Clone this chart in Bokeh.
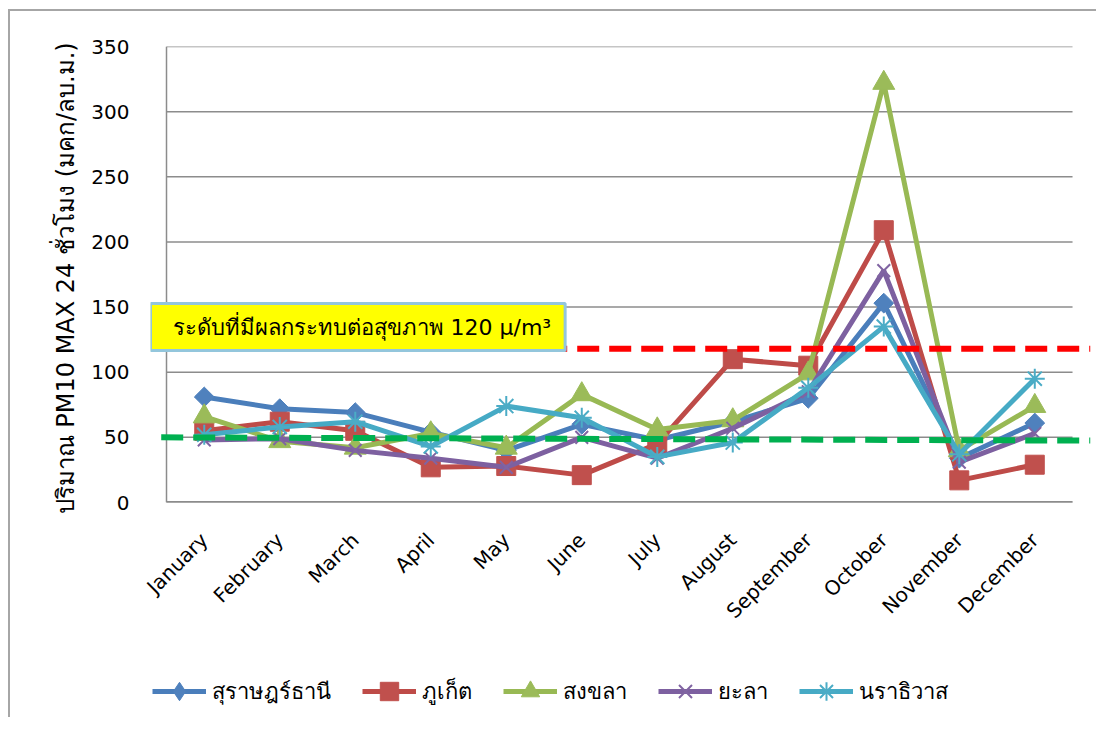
import math
from bokeh.plotting import figure
from bokeh.layouts import column
from bokeh.models import Range1d, FixedTicker, Label, Legend, LegendItem
from bokeh.embed import file_html
from bokeh.resources import INLINE

months = ["January", "February", "March", "April", "May", "June", "July",
          "August", "September", "October", "November", "December"]
series_names = ["สุราษฎร์ธานี", "ภูเก็ต", "สงขลา", "ยะลา", "นราธิวาส"]
surat = [81, 72, 69, 54, 40, 60, 48, 62, 80, 153, 34, 61]
phuket = [55, 62, 55, 27, 28, 21, 45, 110, 105, 209, 17, 29]
songkhla = [66, 47, 42, 53, 42, 83, 56, 63, 99, 322, 40, 74]
yala = [48, 49, 40, 34, 27, 50, 34, 57, 85, 178, 31, 53]
narathiwat = [52, 58, 62, 43, 74, 65, 35, 46, 88, 135, 37, 95]
y_ticks = [0, 50, 100, 150, 200, 250, 300, 350]
health_limit = 118          # red dashed reference line
green_ref = [50, 47.5]      # green dashed reference line (start, end)
box_text = "ระดับที่มีผลกระทบต่อสุขภาพ 120 μ/m³"
y_title = "ปริมาณ PM10  MAX 24 ชั่วโมง (มคก/ลบ.ม.)"

FONT = "DejaVu Sans"
x = [i + 0.5 for i in range(len(months))]
X0, X1 = -0.212, 12.238

p = figure(width=1086, height=646, output_backend="svg", toolbar_location=None,
           x_range=Range1d(X0, X1), y_range=Range1d(0, 350),
           min_border_left=140, min_border_right=6, min_border_top=35,
           min_border_bottom=155)
p.xgrid.visible = False
p.ygrid.visible = False
p.outline_line_color = None

# gridlines and axis lines (plot area spans categories 0..12)
p.segment(x0=[0] * len(y_ticks), x1=[12] * len(y_ticks), y0=y_ticks, y1=y_ticks,
          line_color="#8c8c8c", line_width=1.5)
p.segment(x0=[0], x1=[12], y0=[0], y1=[0], line_color="#8c8c8c", line_width=3)
p.segment(x0=[0], x1=[0], y0=[0], y1=[350], line_color="#8c8c8c", line_width=1.5)

# y axis
p.yaxis.ticker = FixedTicker(ticks=y_ticks)
p.yaxis.axis_line_color = None
p.yaxis.major_tick_line_color = None
p.yaxis.minor_tick_line_color = None
p.yaxis.major_label_standoff = 15
p.yaxis.major_label_text_font = FONT
p.yaxis.major_label_text_font_size = "20px"
p.yaxis.major_label_text_color = "#000000"
p.yaxis.axis_label = y_title
p.yaxis.axis_label_text_font = FONT
p.yaxis.axis_label_text_font_size = "24px"
p.yaxis.axis_label_text_font_style = "normal"
p.yaxis.axis_label_text_color = "#000000"
p.yaxis.axis_label_standoff = 8

# x axis
p.xaxis.ticker = FixedTicker(ticks=x)
p.xaxis.major_label_overrides = {xi: m for xi, m in zip(x, months)}
p.xaxis.major_label_orientation = math.pi / 4
p.xaxis.axis_line_color = None
p.xaxis.major_tick_line_color = None
p.xaxis.minor_tick_line_color = None
p.xaxis.major_label_standoff = 28
p.xaxis.major_label_text_font = FONT
p.xaxis.major_label_text_font_size = "20px"
p.xaxis.major_label_text_color = "#000000"

styles = [
    (surat, "#4a7ebb", "#4f81bd", dict(marker="square", size=14, angle=math.pi / 4)),
    (phuket, "#be4b48", "#c0504d", dict(marker="square", size=19)),
    (songkhla, "#98b954", "#9bbb59", dict(marker="triangle", size=22)),
    (yala, "#7d60a0", "#8064a2", dict(marker="x", size=18, line_width=2)),
    (narathiwat, "#46aac5", "#4bacc6", dict(marker="asterisk", size=20, line_width=2)),
]
for name, (vals, lc, mc, mk) in zip(series_names, styles):
    p.line(x, vals, line_color=lc, line_width=5)
    p.scatter(x, vals, fill_color=mc, line_color=mc, **mk)

# reference lines
p.line([-0.07, X1], [health_limit, health_limit], line_color="#ff0000", line_width=6,
       line_dash="22 10")
p.line([-0.07, X1], green_ref, line_color="#00b050", line_width=6, line_dash="22 10")

# annotation box (shadow + box)
by = (502 - 350) / (456 / 350)
pad = dict(left=22, right=14, top=11, bottom=11)
shadow = Label(x=X0, y=by, x_offset=4, y_offset=-4, text=box_text, anchor="bottom_left",
               text_font=FONT, text_font_size="22px", text_alpha=0.0,
               background_fill_color="#7f9fb0", background_fill_alpha=0.75,
               padding=pad)
box = Label(x=X0, y=by, text=box_text, anchor="bottom_left",
            text_font=FONT, text_font_size="22px", text_color="#000000",
            background_fill_color="#ffff00", border_line_color="#93c6dc",
            border_line_width=3, padding=pad)
p.add_layout(shadow)
p.add_layout(box)

# legend strip below the chart (same series, drawn off-range so only the key shows)
lg = figure(width=1086, height=60, output_backend="svg", toolbar_location=None,
            x_range=Range1d(-10, -9), y_range=Range1d(0, 1),
            x_axis_type=None, y_axis_type=None,
            min_border_left=0, min_border_right=0, min_border_top=0, min_border_bottom=0)
lg.xgrid.visible = False
lg.ygrid.visible = False
lg.outline_line_color = None
legend_markers = ["diamond", "square", "triangle", "x", "asterisk"]
items = []
for name, (vals, lc, mc, mk), lm in zip(series_names, styles, legend_markers):
    lr = lg.line(x, vals, line_color=lc, line_width=5)
    sr = lg.scatter(x, vals, marker=lm, fill_color=mc, line_color=mc,
                    line_width=mk.get("line_width", 1))
    items.append(LegendItem(label=name, renderers=[lr, sr]))
legend = Legend(items=items, orientation="horizontal", location=(2, 3),
                glyph_width=54, glyph_height=46, label_standoff=6, spacing=31,
                padding=0, margin=0, border_line_color=None,
                background_fill_alpha=0.0, label_text_font=FONT,
                label_text_font_size="22px", label_text_color="#000000")
lg.add_layout(legend)

layout = column(p, lg, spacing=0)
layout.styles = {"border-top": "2px solid #a6a6a6", "border-left": "2px solid #a6a6a6",
                 "margin-top": "9px", "margin-left": "8px"}

open("out.html", "w").write(file_html(layout, INLINE))
